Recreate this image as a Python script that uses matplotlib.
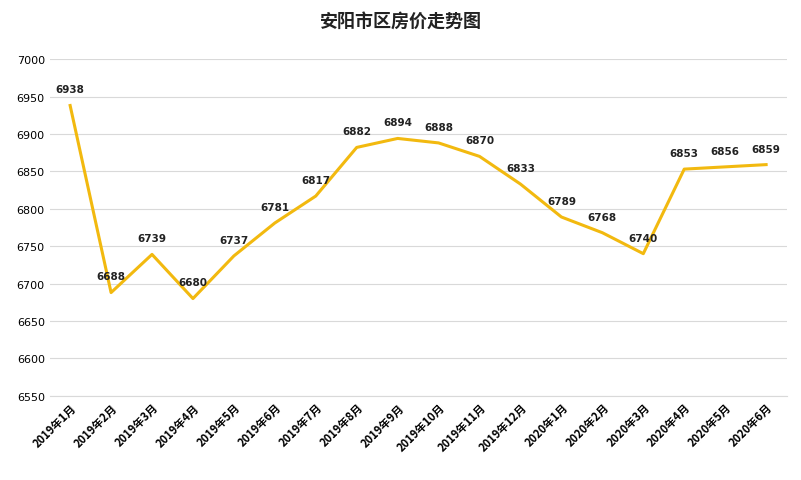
import matplotlib
matplotlib.use("Agg")
import matplotlib.pyplot as plt

plt.rcParams['font.family'] = ['Noto Sans CJK SC', 'DejaVu Sans']

months = ['2019年1月','2019年2月','2019年3月','2019年4月','2019年5月','2019年6月','2019年7月','2019年8月','2019年9月','2019年10月','2019年11月','2019年12月','2020年1月','2020年2月','2020年3月','2020年4月','2020年5月','2020年6月']
prices = [6938,6688,6739,6680,6737,6781,6817,6882,6894,6888,6870,6833,6789,6768,6740,6853,6856,6859]
yticks = list(range(6550, 7001, 50))

fig = plt.figure(figsize=(8.01, 4.81), dpi=100)
ax = fig.add_axes([0.062, 0.175, 0.92, 0.70])
x = list(range(len(months)))
ax.plot(x, prices, color='#F2B90F', lw=2.2)
for xi, v in zip(x, prices):
    ax.annotate(str(v), (xi, v), xytext=(0, 8), textcoords='offset points',
                ha='center', va='bottom', fontsize=7.5, fontweight='bold', color='#222222',
                family='DejaVu Sans')
ax.set_ylim(6550, 7000)
ax.set_yticks(yticks)
ax.set_yticklabels([str(t) for t in yticks], family='DejaVu Sans')
ax.set_xlim(-0.5, len(months) - 0.5)
ax.set_xticks(x)
ax.set_xticklabels(months, rotation=45, ha='right', rotation_mode='anchor', fontsize=8, fontweight='bold')
ax.tick_params(axis='y', labelsize=8, length=0)
ax.tick_params(axis='x', length=0)
ax.grid(axis='y', color='#d9d9d9', lw=0.8)
for s in ['top', 'right', 'left']:
    ax.spines[s].set_visible(False)
ax.spines['bottom'].set_color('#d9d9d9')
fig.text(0.5, 0.955, '安阳市区房价走势图', ha='center', va='center', fontsize=13, fontweight='bold', color='#222222')
fig.savefig('out.png', dpi=100)
